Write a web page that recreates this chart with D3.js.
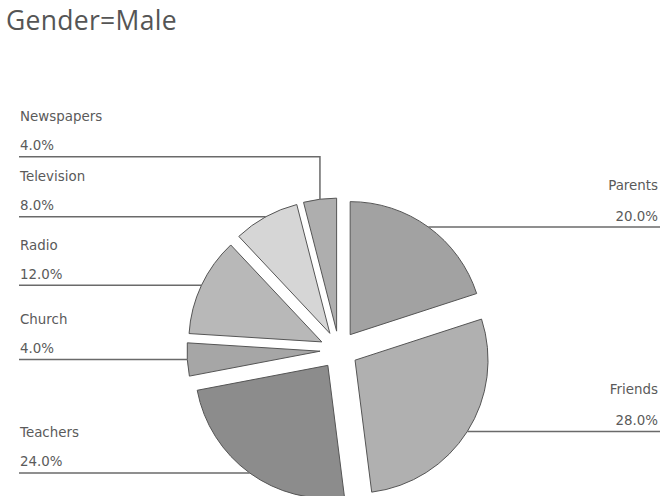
<!DOCTYPE html>
<html>
<head>
<meta charset="utf-8">
<script src="https://cdn.jsdelivr.net/npm/d3@7"></script>
<style>
  html, body { margin: 0; padding: 0; background: #fff; }
  svg { display: block; }
</style>
</head>
<body>
<svg id="chart" width="663" height="496"></svg>
<script>
// Information sources, share of male respondents
const categories = ["Parents", "Friends", "Teachers", "Church", "Radio", "Television", "Newspapers"];
const shares = [20, 28, 24, 4, 12, 8, 4];
const fills = ["#a2a2a2", "#b0b0b0", "#8c8c8c", "#a6a6a6", "#b8b8b8", "#d6d6d6", "#aeaeae"];
const titleText = "Gender=Male";

const W = 663, H = 496;
const cx = 339, cy = 350;
const radius = 133;
const explode = 19;
const labelFont = "'DejaVu Sans', Verdana, sans-serif";

const svg = d3.select("#chart");

svg.append("text")
  .attr("x", 6).attr("y", 30)
  .attr("font-family", "'Open Sans', sans-serif")
  .attr("font-size", 26.5)
  .attr("letter-spacing", 0.3)
  .attr("fill", "#555")
  .text(titleText);

const data = categories.map((c, i) => ({ name: c, value: shares[i], fill: fills[i] }));
const total = d3.sum(shares);

const pie = d3.pie().value(d => d.value).sort(null).startAngle(0).endAngle(2 * Math.PI);
const arcs = pie(data);
const arc = d3.arc().innerRadius(0).outerRadius(radius);

const g = svg.append("g").attr("transform", `translate(${cx},${cy})`);

// each slice pulled out along its bisector
function offset(a) {
  const mid = (a.startAngle + a.endAngle) / 2;
  return [explode * Math.sin(mid), -explode * Math.cos(mid)];
}
function anchor(a) {
  const mid = (a.startAngle + a.endAngle) / 2;
  const [ox, oy] = offset(a);
  return [cx + ox + radius * Math.sin(mid), cy + oy - radius * Math.cos(mid)];
}

g.selectAll("path.slice")
  .data(arcs)
  .join("path")
  .attr("class", "slice")
  .attr("d", arc)
  .attr("transform", a => `translate(${offset(a)})`)
  .attr("fill", a => a.data.fill)
  .attr("stroke", "#555")
  .attr("stroke-width", 1);

// label placement: left and right columns, keeping a minimum gap
const gap = 60;
const items = arcs.map(a => {
  const [ax, ay] = anchor(a);
  const mid = (a.startAngle + a.endAngle) / 2;
  return { a, ax, ay, side: mid > Math.PI ? "left" : "right", ly: ay };
});

["left", "right"].forEach(side => {
  const col = items.filter(d => d.side === side).sort((p, q) => q.ay - p.ay);
  for (let i = 1; i < col.length; i++) {
    if (col[i - 1].ly - col[i].ly < gap) col[i].ly = col[i - 1].ly - gap;
  }
});

const leftX = 19, rightX = 660;
const labels = svg.append("g");

items.forEach(d => {
  const pts = d.side === "left"
    ? [[leftX, d.ly], [d.ax, d.ly], [d.ax, d.ay]]
    : [[rightX, d.ly], [d.ax, d.ly], [d.ax, d.ay]];
  labels.append("path")
    .attr("d", d3.line()(pts))
    .attr("fill", "none")
    .attr("stroke", "#6a6a6a")
    .attr("stroke-width", 1.5);

  const tx = d.side === "left" ? leftX + 1 : rightX - 2;
  const anchorAttr = d.side === "left" ? "start" : "end";
  const pct = (d.a.data.value / total * 100).toFixed(1) + "%";
  const nameDy = d.side === "left" ? 35.5 : 37.5;

  labels.append("text")
    .attr("x", tx).attr("y", d.ly - nameDy)
    .attr("text-anchor", anchorAttr)
    .attr("font-family", labelFont)
    .attr("font-size", 13.4)
    .attr("fill", "#5a5a5a")
    .text(d.a.data.name);
  labels.append("text")
    .attr("x", tx).attr("y", d.ly - 6.5)
    .attr("text-anchor", anchorAttr)
    .attr("font-family", labelFont)
    .attr("font-size", 13.4)
    .attr("fill", "#5a5a5a")
    .text(pct);
});
</script>
</body>
</html>
